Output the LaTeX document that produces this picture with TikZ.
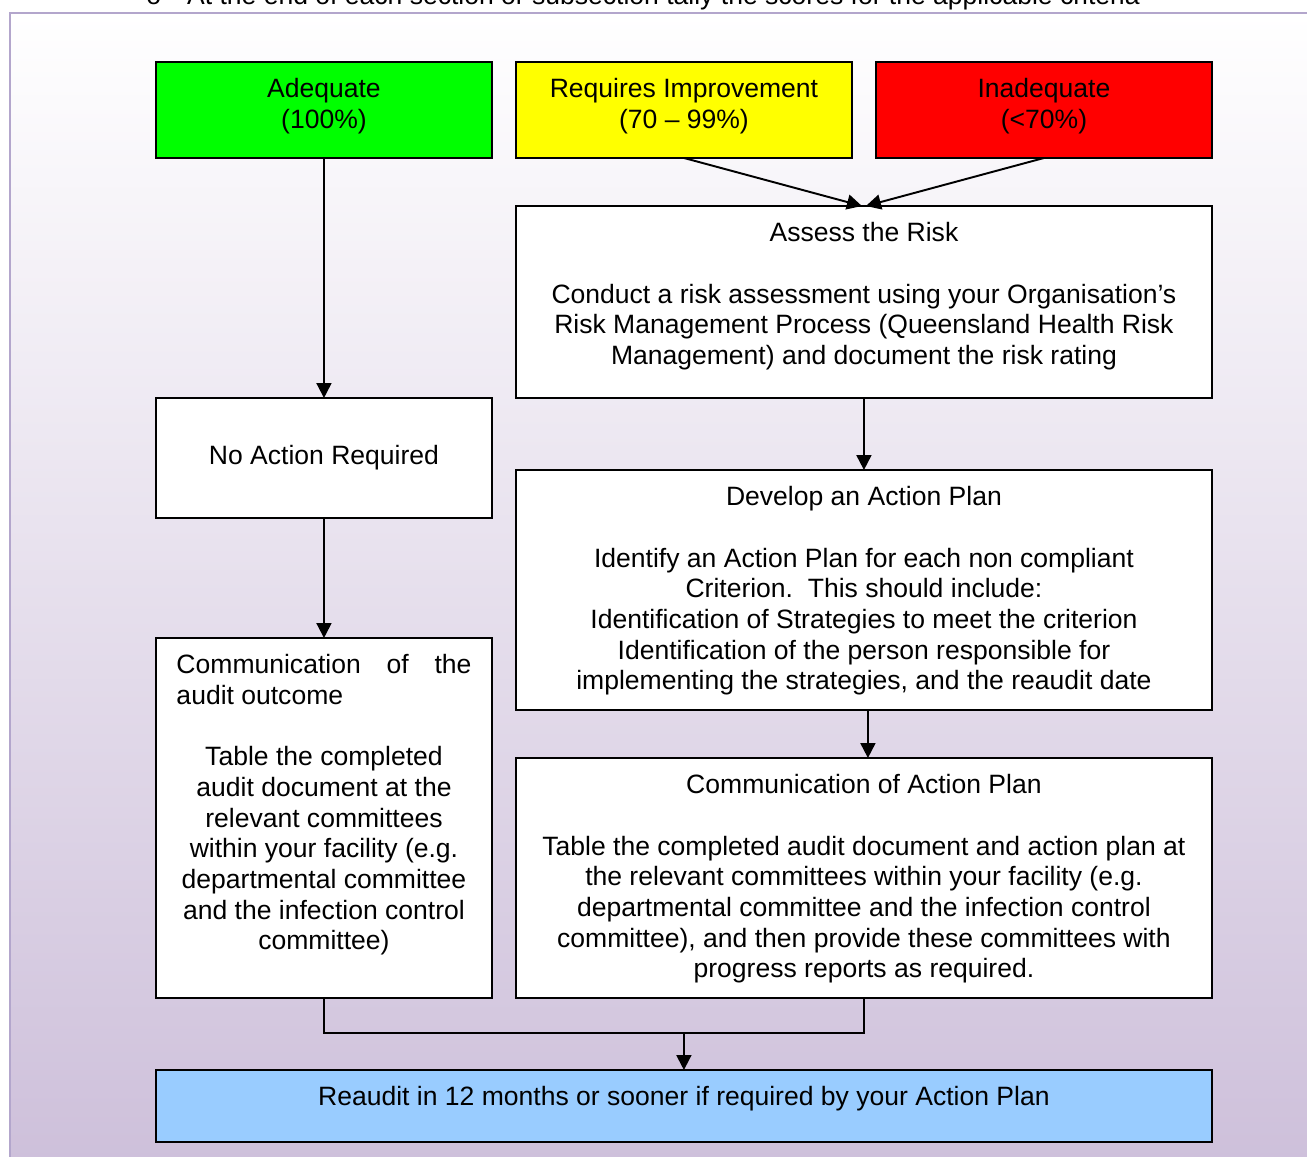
\documentclass[tikz,border=0pt]{standalone}
\usepackage{fontspec}
\setmainfont{Liberation Sans}
\usetikzlibrary{arrows.meta, calc}
\definecolor{gradegreen}{RGB}{0,255,0}
\definecolor{gradeyellow}{RGB}{255,255,0}
\definecolor{gradered}{RGB}{255,0,0}
\definecolor{reauditblue}{RGB}{153,204,255}
\definecolor{lavbottom}{RGB}{205,191,218}
\definecolor{framelav}{RGB}{179,166,204}
\tikzset{
  box/.style={
    rectangle, draw=black, fill=white, line width=1.1pt,
    inner sep=0pt, outer sep=0pt, anchor=north west, align=center
  },
  grade/.style={box, minimum width=6.72cm, minimum height=1.92cm},
  arrow/.style={
    -{Triangle[width=0.3cm,length=0.3cm]}, line width=1.1pt
  },
  link/.style={line width=1.1pt}
}
% box text: width, height, lines (top aligned)
\newcommand{\boxtext}[3]{\parbox[t][#2][t]{#1}{\vspace*{0.33cm}\centering #3}}

\begin{document}
\begin{tikzpicture}[x=0.02cm, y=-0.02cm, every node/.style={font=\fontsize{15.1}{17.45}\selectfont}]
    \useasboundingbox (0,0) rectangle (1307,1156);

    % Background panel
    \shade[top color=white, bottom color=lavbottom] (10,13) rectangle (1330,1180);
    \draw[framelav, line width=0.05cm] (1330,13) -- (10,13) -- (10,1180);
    \node[anchor=base west, inner sep=0pt] (note) at (146,5)
      {o\hspace{0.52cm}At the end of each section or subsection tally the scores for the applicable criteria};

    % Grades
    \node[grade, fill=gradegreen] (adequate) at (156,62)
      {\boxtext{6.72cm}{1.92cm}{Adequate\\(100\%)}};
    \node[grade, fill=gradeyellow] (improve) at (516,62)
      {\boxtext{6.72cm}{1.92cm}{Requires Improvement\\(70 – 99\%)}};
    \node[grade, fill=gradered] (inadequate) at (876,62)
      {\boxtext{6.72cm}{1.92cm}{Inadequate\\(<70\%)}};

    % Right column
    \node[box] (assess) at (516,206)
      {\boxtext{13.92cm}{3.84cm}{Assess the Risk\\[17.45pt]
       Conduct a risk assessment using your Organisation’s\\
       Risk Management Process (Queensland Health Risk\\
       Management) and document the risk rating}};
    \node[box] (develop) at (516,470)
      {\boxtext{13.92cm}{4.8cm}{Develop an Action Plan\\[17.45pt]
       Identify an Action Plan for each non compliant\\
       Criterion.\ \ This should include:\\
       Identification of Strategies to meet the criterion\\
       Identification of the person responsible for\\
       implementing the strategies, and the reaudit date}};
    \node[box] (commplan) at (516,758)
      {\boxtext{13.92cm}{4.8cm}{Communication of Action Plan\\[17.45pt]
       Table the completed audit document and action plan at\\
       the relevant committees within your facility (e.g.\\
       departmental committee and the infection control\\
       committee), and then provide these committees with\\
       progress reports as required.}};

    % Left column
    \node[box, minimum width=6.72cm, minimum height=2.4cm] (noaction) at (156,398)
      {No Action Required};
    \node[box] (commaudit) at (156,638)
      {\boxtext{6.72cm}{7.2cm}{\makebox[5.9cm][s]{Communication of the}\\
       \makebox[5.9cm][l]{audit outcome}\\[17.45pt]
       Table the completed\\audit document at the\\relevant committees\\
       within your facility (e.g.\\departmental committee\\
       and the infection control\\committee)}};

    % Reaudit
    \node[box, fill=reauditblue] (reaudit) at (156,1070)
      {\boxtext{21.12cm}{1.44cm}{Reaudit in 12 months or sooner if required by your Action Plan}};

    % Flow arrows
    \draw[arrow] (adequate) -- (noaction);
    \draw[arrow] (noaction) -- (commaudit);
    \draw[arrow] (improve.south) -- ([xshift=-0.04cm]assess.north);
    \draw[arrow] (inadequate.south) -- ([xshift=0.04cm]assess.north);
    \draw[arrow] (assess) -- (develop);
    \draw[arrow] ([xshift=0.08cm]develop.south) -- ([xshift=0.08cm]commplan.north);
    \draw[link] (commaudit.south) -- ++(0,35) -| (commplan.south);
    \coordinate (merge) at ($(reaudit.north)+(0,-37)$);
    \draw[arrow] (merge) -- (reaudit.north);

    \end{tikzpicture}
\end{document}
